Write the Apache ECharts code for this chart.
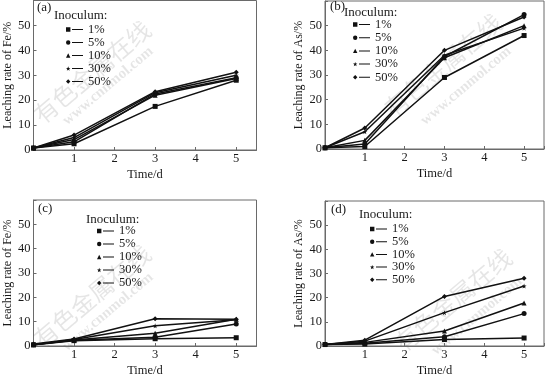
<!DOCTYPE html>
<html>
<head>
<meta charset="utf-8">
<script src="https://cdn.jsdelivr.net/npm/echarts@6/dist/echarts.min.js"></script>
<style>
html,body{margin:0;padding:0;background:#fff;}
#chart{width:547px;height:378px;}
</style>
</head>
<body>
<div id="chart"></div>
<script>
// ---- data ----
const days = [0, 1, 3, 5];
const inoculum = ['1%', '5%', '10%', '30%', '50%'];
const xTicks = ['1', '2', '3', '4', '5'];
const yTicks = ['0', '10', '20', '30', '40', '50'];
const panelLabels = ['(a)', '(b)', '(c)', '(d)'];
const yNames = ['Leaching rate of Fe/%', 'Leaching rate of As/%', 'Leaching rate of Fe/%', 'Leaching rate of As/%'];
const xName = 'Time/d';
const legendTitle = 'Inoculum:';

// (a) Fe leaching
const feA_1 = [0.8, 2.5, 17.5, 28.0];
const feA_5 = [0.8, 3.3, 22.5, 29.0];
const feA_10 = [0.8, 4.2, 22.0, 28.7];
const feA_30 = [0.8, 5.0, 23.0, 30.0];
const feA_50 = [0.8, 6.0, 23.4, 31.2];
// (b) As leaching
const asB_1 = [0.5, 1.0, 29.0, 46.0];
const asB_5 = [0.5, 2.0, 37.5, 54.5];
const asB_10 = [0.5, 3.5, 37.0, 50.0];
const asB_30 = [0.5, 7.0, 38.0, 49.0];
const asB_50 = [0.5, 8.5, 40.0, 53.5];
// (c) Fe leaching
const feC_1 = [0.5, 2.2, 3.0, 3.4];
const feC_5 = [0.5, 2.4, 3.6, 9.0];
const feC_10 = [0.5, 2.5, 5.2, 11.0];
const feC_30 = [0.5, 2.7, 8.3, 10.8];
const feC_50 = [0.8, 2.9, 11.2, 11.0];
// (d) As leaching
const asD_1 = [0.6, 0.8, 2.7, 3.3];
const asD_5 = [0.6, 1.1, 3.8, 13.4];
const asD_10 = [0.6, 1.5, 6.2, 17.8];
const asD_30 = [0.6, 2.0, 13.8, 24.8];
const asD_50 = [0.6, 2.4, 20.5, 28.0];

const panels = [
  [feA_1, feA_5, feA_10, feA_30, feA_50],
  [asB_1, asB_5, asB_10, asB_30, asB_50],
  [feC_1, feC_5, feC_10, feC_30, feC_50],
  [asD_1, asD_5, asD_10, asD_30, asD_50]
];

// ---- styling ----
const FONT = '"Liberation Serif", "DejaVu Serif", serif';
const TXT = '#1a1a1a';
const AXC = '#6a6a6a';
const STAR = 'path://M5,0L6.2,3.6L10,3.6L6.9,5.9L8.1,9.5L5,7.3L1.9,9.5L3.1,5.9L0,3.6L3.8,3.6Z';
const symbols = ['rect', 'circle', 'triangle', STAR, 'diamond'];
const symbolSizes = [5, 5, 5, 5, 5];
const LINE = 'M6,2H17V3H6Z';
const legendIcons = [
  'path://M0,0.3H4.4V4.7H0Z ' + LINE,
  'path://M2.2,0.3A2.2,2.2,0,1,1,2.2,4.7A2.2,2.2,0,1,1,2.2,0.3Z ' + LINE,
  'path://M2.2,0.3L4.4,4.7H0Z ' + LINE,
  'path://M2.2,0.3L2.8,2.0L4.4,2.0L3.1,3.0L3.6,4.7L2.2,3.7L0.8,4.7L1.3,3.0L0,2.0L1.6,2.0Z ' + LINE,
  'path://M2.2,0.3L4.4,2.5L2.2,4.7L0,2.5Z ' + LINE
];

const grids = [
  {left: 33.5, top: 0.5, width: 223, height: 149.5},
  {left: 325, top: 1, width: 221, height: 148},
  {left: 33.5, top: 200, width: 223, height: 150},
  {left: 325, top: 201, width: 221, height: 149}
];
const labelPos = [[37, 1.5], [330, 0], [38, 202.5], [331, 203]];
const titlePos = [[54, 9.5], [344, 6.5], [86, 213], [359, 208]];
const legendPos = [[66, 23], [353, 18], [97, 224.5], [370, 222.5]];
const legendGaps = [0, 0.2, 0, -0.3];

const xAxes = [], yAxes = [], series = [], titles = [], legends = [];
grids.forEach((g, i) => {
  xAxes.push({
    type: 'value', gridIndex: i, min: 0, max: 5.5, interval: 1,
    name: xName, nameLocation: 'middle', nameGap: 18,
    nameTextStyle: {fontFamily: FONT, fontSize: 12.5, color: TXT},
    axisLine: {show: true, lineStyle: {color: AXC, width: 1}},
    axisTick: {show: true, inside: true, length: 3, lineStyle: {color: AXC}},
    axisLabel: {
      fontFamily: FONT, fontSize: 12.5, color: TXT, margin: 2,
      formatter: v => (Number.isInteger(v) && v >= 1 && v <= 5) ? xTicks[v - 1] : ''
    },
    splitLine: {show: false}
  });
  yAxes.push({
    type: 'value', gridIndex: i, min: 0, max: 60, interval: 10,
    name: yNames[i], nameLocation: 'middle', nameGap: 20,
    nameTextStyle: {fontFamily: FONT, fontSize: 12, color: TXT},
    axisLine: {show: true, lineStyle: {color: AXC, width: 1}},
    axisTick: {show: true, inside: true, length: 3, lineStyle: {color: AXC}},
    axisLabel: {
      fontFamily: FONT, fontSize: 12.5, color: TXT, margin: 3,
      formatter: v => (v <= 50) ? yTicks[Math.round(v / 10)] : ''
    },
    splitLine: {show: false}
  });
  panels[i].forEach((vals, k) => {
    series.push({
      type: 'line', name: inoculum[k], xAxisIndex: i, yAxisIndex: i,
      data: days.map((d, j) => [d, vals[j]]),
      symbol: symbols[k], symbolSize: symbolSizes[k],
      lineStyle: {color: '#111', width: 1.5},
      itemStyle: {color: '#111'},
      animation: false, silent: true, z: 3
    });
  });
  titles.push({
    text: panelLabels[i], left: labelPos[i][0], top: labelPos[i][1], padding: 0,
    textStyle: {fontFamily: FONT, fontSize: 13, fontWeight: 'normal', color: TXT}
  });
  titles.push({
    text: legendTitle, left: titlePos[i][0], top: titlePos[i][1], padding: 0,
    textStyle: {fontFamily: FONT, fontSize: 13, fontWeight: 'normal', color: TXT}
  });
  legends.push({
    orient: 'vertical', left: legendPos[i][0], top: legendPos[i][1], padding: 0,
    itemGap: legendGaps[i], itemWidth: 17, itemHeight: 5, selectedMode: false,
    data: inoculum.map((n, k) => ({name: n, icon: legendIcons[k], itemStyle: {color: '#111'}})),
    textStyle: {fontFamily: FONT, fontSize: 12.5, color: TXT, lineHeight: 12}
  });
});

// faint watermark text
const graphics = [];
const wmCenters = [[92, 72], [443, 65], [92, 296], [453, 300]];
const wwwCenters = [[108, 86], [466, 86], [108, 312], [477, 316]];
wmCenters.forEach((c, i) => {
  graphics.push({
    type: 'text', x: c[0], y: c[1], rotation: 40 * Math.PI / 180, z: 0, silent: true,
    style: {text: '有色金属在线', font: '24px "Noto Sans CJK SC"', fill: 'rgba(0,0,0,0.10)', align: 'center', verticalAlign: 'middle'}
  });
  graphics.push({
    type: 'text', x: wwwCenters[i][0], y: wwwCenters[i][1], rotation: 40 * Math.PI / 180, z: 0, silent: true,
    style: {text: 'www.cnnmol.com', font: 'bold 15px "Liberation Serif"', fill: 'rgba(0,0,0,0.10)', align: 'center', verticalAlign: 'middle'}
  });
});

const chart = echarts.init(document.getElementById('chart'), null, {renderer: 'canvas'});
chart.setOption({
  animation: false,
  backgroundColor: '#fff',
  grid: grids.map(g => Object.assign({show: true, borderColor: AXC, borderWidth: 1, backgroundColor: 'transparent'}, g)),
  xAxis: xAxes,
  yAxis: yAxes,
  title: titles,
  legend: legends,
  series: series,
  graphic: graphics
});
</script>
</body>
</html>
